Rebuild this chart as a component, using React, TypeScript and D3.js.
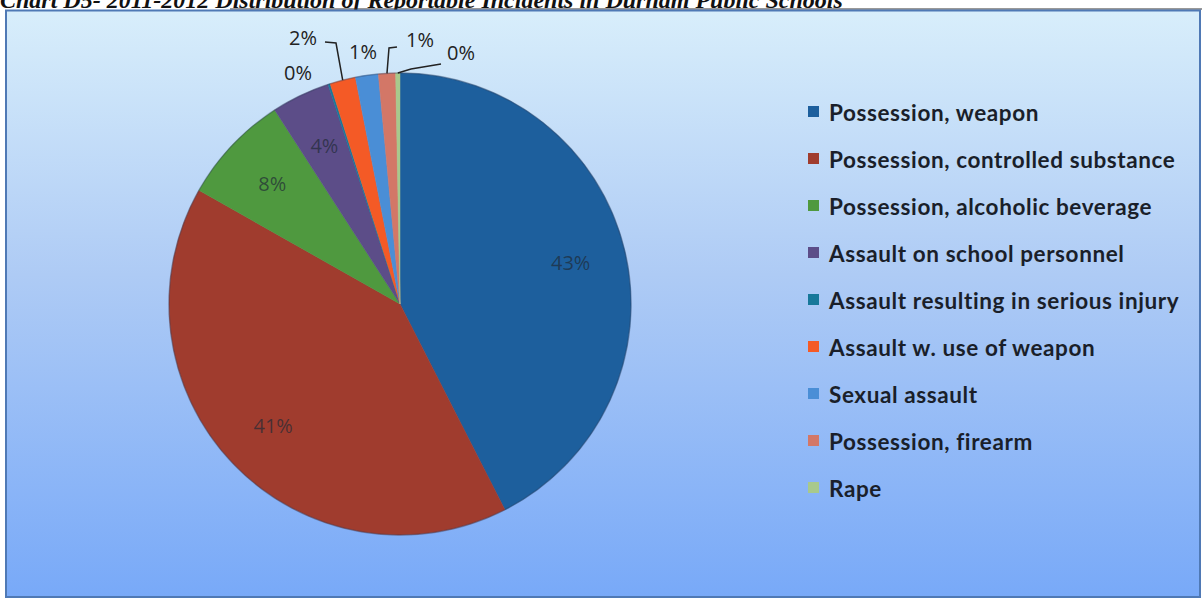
import React from "react";
import * as d3 from "d3";

const categories = [
  "Possession, weapon",
  "Possession, controlled substance",
  "Possession, alcoholic beverage",
  "Assault on school personnel",
  "Assault resulting in serious injury",
  "Assault w. use of weapon",
  "Sexual assault",
  "Possession, firearm",
  "Rape",
];
const values = [42.6, 40.8, 7.7, 4.1, 0.15, 1.8, 1.6, 1.2, 0.3];
const labels = ["43%", "41%", "8%", "4%", "0%", "2%", "1%", "1%", "0%"];
const colors = ["#1d5f9d", "#a03c2e", "#4f993f", "#5c4d88", "#17789a", "#f45a26", "#4a8ed6", "#d37767", "#a8c98c"];
const title = "Chart D5- 2011-2012 Distribution of Reportable Incidents in Durham Public Schools";

export default function App() {
  const W = 1202, H = 599;
  const cx = 400, cy = 304, r = 231;
  const pie = d3.pie<number>().sort(null).value((d) => d);
  const arcs = pie(values);
  const arcGen = d3.arc<d3.PieArcDatum<number>>().innerRadius(0).outerRadius(r);
  const inner = d3.arc<d3.PieArcDatum<number>>().innerRadius(r * 0.76).outerRadius(r * 0.76);

  const outside: Record<number, { x: number; y: number; pts?: [number, number][] }> = {
    4: { x: 298, y: 80 },
    5: { x: 303, y: 45, pts: [[0, 0], [336, 43], [325, 42]] },
    6: { x: 363, y: 59 },
    7: { x: 420, y: 47, pts: [[0, 0], [389, 48], [397, 47]] },
    8: { x: 461, y: 60, pts: [[0, 0], [411, 69], [441, 64]] },
  };

  return (
    <svg width={W} height={H} style={{ position: "absolute", left: 0, top: 0 }}>
      <defs>
        <linearGradient id="bg" x1="0" y1="0" x2="0" y2="1">
          <stop offset="0" stopColor="#d8eefb" />
          <stop offset="0.45" stopColor="#aecbf5" />
          <stop offset="1" stopColor="#78a9f8" />
        </linearGradient>
      </defs>
      <rect x={0} y={0} width={W} height={H} fill="#ffffff" />
      <text x={0} y={8} fontFamily="'Liberation Serif', serif" fontWeight="bold" fontStyle="italic" fontSize={24} fill="#111">
        {title}
      </text>
      <line x1={230} y1={9} x2={W} y2={9} stroke="#333" strokeWidth={1} />
      <rect x={6} y={10.5} width={W - 8} height={H - 12.5} fill="url(#bg)" stroke="#4f79b5" strokeWidth={2} />
      <g transform={`translate(${cx},${cy})`}>
        {arcs.map((a, i) => (
          <path key={i} d={arcGen(a) || ""} fill={colors[i]} stroke={colors[i]} strokeWidth={0.5} />
        ))}
        <circle r={r} fill="none" stroke="#2a3a55" strokeOpacity={0.35} strokeWidth={1.5} />
      </g>
      {arcs.map((a, i) => {
        if (outside[i]) return null;
        const [x, y] = inner.centroid(a);
        return (
          <text key={i} x={cx + x} y={cy + y} textAnchor="middle" dominantBaseline="central" fontFamily="'Open Sans', sans-serif" fontSize={20} fill="#1f2a36" fillOpacity={0.7}>
            {labels[i]}
          </text>
        );
      })}
      {arcs.map((a, i) => {
        const o = outside[i];
        if (!o) return null;
        const mid = (a.startAngle + a.endAngle) / 2;
        const ex = cx + Math.sin(mid) * r, ey = cy - Math.cos(mid) * r;
        const pts = o.pts ? o.pts.map((p, k) => (k === 0 ? [ex, ey] : p)) : null;
        return (
          <g key={i}>
            {pts && <polyline points={pts.map((p) => p.join(",")).join(" ")} fill="none" stroke="#222" strokeWidth={1.5} />}
            <text x={o.x} y={o.y} textAnchor="middle" fontFamily="'Open Sans', sans-serif" fontSize={20} fill="#222">
              {labels[i]}
            </text>
          </g>
        );
      })}
      <g fontFamily="Lato, sans-serif" fontWeight="bold" fontSize={22.5} letterSpacing={0.6} fill="#1a1f2a">
        {categories.map((c, i) => {
          const y = 112 + i * 47;
          return (
            <g key={i}>
              <rect x={808} y={y - 6} width={11} height={11} fill={colors[i]} />
              <text x={829} y={y} dominantBaseline="central">{c}</text>
            </g>
          );
        })}
      </g>
    </svg>
  );
}
